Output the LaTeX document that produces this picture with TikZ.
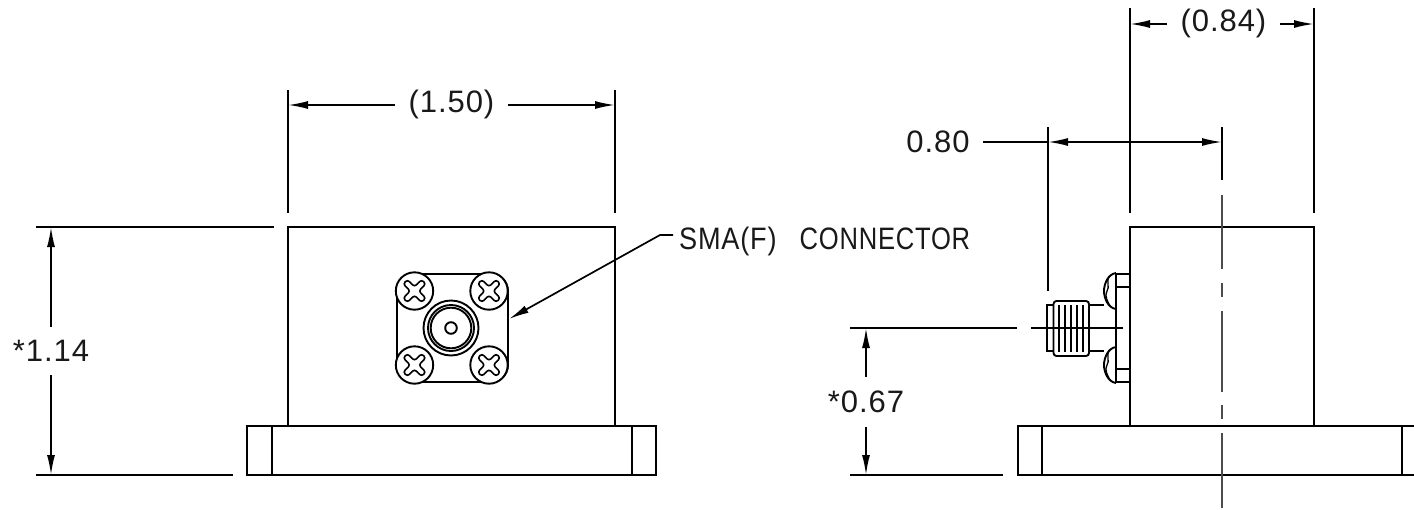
\documentclass[tikz,border=0pt]{standalone}
\usepackage{graphicx}
\usepackage{fontspec}
\setmainfont{Liberation Sans}
\newfontfamily\dimfont[LetterSpace=3]{Liberation Sans}
\usetikzlibrary{arrows.meta}
\tikzset{
  part/.style={draw=black,line width=1.9pt,line join=miter},
  dimline/.style={draw=black,line width=1.7pt},
  centreline/.style={draw=black!70,line width=1.5pt},
  dimarrow/.style={dimline,-{Latex[length=20pt,width=8pt]}},
  twoarrow/.style={dimline,{Latex[length=20pt,width=8pt]}-{Latex[length=20pt,width=8pt]}},
  dimtext/.style={font=\dimfont\fontsize{31}{31}\selectfont,inner sep=0pt,text=black!90},
}
\newcommand{\screwcross}[2]{%
  \begin{scope}[shift={(#1,#2)},rotate=45]
    \draw[part,line width=1.6pt,rounded corners=2.6pt] (-3,-3)--(-3,-13)--(3,-13)--(3,-3)--(13,-3)--(13,3)--(3,3)--(3,13)--(-3,13)--(-3,3)--(-13,3)--(-13,-3)--cycle;
  \end{scope}}
\begin{document}
\begin{tikzpicture}[x=1pt,y=-1pt]
\useasboundingbox (0,0) rectangle (1414,509);
% left view
\draw[part] (288,426)--(288,227)--(615,227)--(615,426);
\draw[part] (247,426) rectangle (656,475);
\draw[part] (272,426)--(272,475) (632,426)--(632,475);
% extension lines
\coordinate (a1) at (288,90); \coordinate (a2) at (288,213);
\coordinate (b1) at (615,90); \coordinate (b2) at (615,213);
\draw[dimline] (a1)--(a2) (b1)--(b2);
\node[dimtext] (d150) at (451.5,104) {(1.50)};
\coordinate (da) at (288,105); \coordinate (db) at (615,105);
\draw[dimarrow] (395,105)--(da);
\draw[dimarrow] (508,105)--(db);
\coordinate (c1) at (36,227); \coordinate (c2) at (274,227);
\coordinate (e1) at (36,475); \coordinate (e2) at (233,475);
\draw[dimline] (c1)--(c2) (e1)--(e2);
\node[dimtext] (d114) at (51,351) {*1.14};
\coordinate (f1) at (51,227); \coordinate (f2) at (51,475);
\draw[dimarrow] (51,327)--(f1);
\draw[dimarrow] (51,375)--(f2);
% flange front
\draw[part,rounded corners=17pt] (397,274) rectangle (508,382);
\foreach \x/\y in {414.5/291,489/291,414.5/365,489/365}{
  \draw[part,fill=white] (\x,\y) circle (18.7);
  \screwcross{\x}{\y}
}
\draw[part] (451,328) circle (27.5);
\draw[part] (451,328) circle (23);
\draw[part] (451,328) circle (20.3);
\draw[part] (451,328) circle (5.8);
% leader
\node[dimtext,anchor=west] (sma) at (679,241) {\scalebox{0.875}[1]{SMA(F)}\hspace{23pt}\scalebox{0.825}[1]{CONNECTOR}};
\coordinate (tip) at (509,319);
\coordinate (knee) at (660,235);
\coordinate (lead) at (673,235);
\draw[dimarrow] (lead)--(knee)--(tip);
% right view
\draw[part] (1130,426)--(1130,227)--(1314,227)--(1314,426);
\draw[part] (1018,426) rectangle (1426,475);
\draw[part] (1042,426)--(1042,475) (1402,426)--(1402,475);
\coordinate (g1) at (1130,8); \coordinate (g2) at (1130,213);
\coordinate (h1) at (1314,8); \coordinate (h2) at (1314,213);
\draw[dimline] (g1)--(g2) (h1)--(h2);
\node[dimtext] (d084) at (1223.5,23) {(0.84)};
\draw[dimarrow] (1167,24)--(1130,24);
\draw[dimarrow] (1280,24)--(1314,24);
% 0.80
\coordinate (k1) at (1048,127); \coordinate (k2) at (1048,291);
\coordinate (l1) at (1222,127); \coordinate (l2) at (1222,180);
\draw[dimline] (k1)--(k2) (l1)--(l2);
\node[dimtext] (d080) at (938,142) {0.80};
\draw[dimline] (983,142)--(1048,142);
\draw[twoarrow] (1048,142)--(1222,142);
% centre line
\draw[centreline] (1222,195)--(1222,269) (1222,283)--(1222,297) (1222,311)--(1222,392) (1222,405)--(1222,419) (1222,433)--(1222,508);
% 0.67
\coordinate (m1) at (850,328); \coordinate (m2) at (1017,328);
\coordinate (n1) at (850,475); \coordinate (n2) at (1003,475);
\draw[dimline] (m1)--(m2) (n1)--(n2);
\node[dimtext] (d067) at (866,402) {*0.67};
\draw[dimarrow] (866,377)--(866,328);
\draw[dimarrow] (866,427)--(866,475);
% connector side
\draw[part] (1116,274) rectangle (1130,382);
\draw[part] (1116,287)--(1130,287) (1116,369)--(1130,369);
\draw[part] (1116,273) .. controls (1108,274) and (1104,284) .. (1104,291) .. controls (1104,298) and (1108,308) .. (1116,309);
\draw[part] (1116,347) .. controls (1108,348) and (1104,358) .. (1104,365) .. controls (1104,372) and (1108,382) .. (1116,383);
\draw[part,line width=1.3pt] (1109,276) .. controls (1106,282) and (1110,287) .. (1107,291) .. controls (1104,296) and (1108,302) .. (1110,306);
\draw[part,line width=1.3pt] (1109,350) .. controls (1106,356) and (1110,361) .. (1107,365) .. controls (1104,370) and (1108,376) .. (1110,380);
\draw[part] (1089,305)--(1104,305) (1089,351)--(1104,351);
\draw[part] (1053,305)--(1047,305)--(1047,351)--(1053,351);
\draw[part,rounded corners=3pt] (1053.5,301) rectangle (1089,356);
\foreach \x in {1059,1065,1071,1077,1083}{\draw[part] (\x,305)--(\x,352);}
\draw[dimline] (1031,328)--(1123,328);
\end{tikzpicture}
\end{document}
